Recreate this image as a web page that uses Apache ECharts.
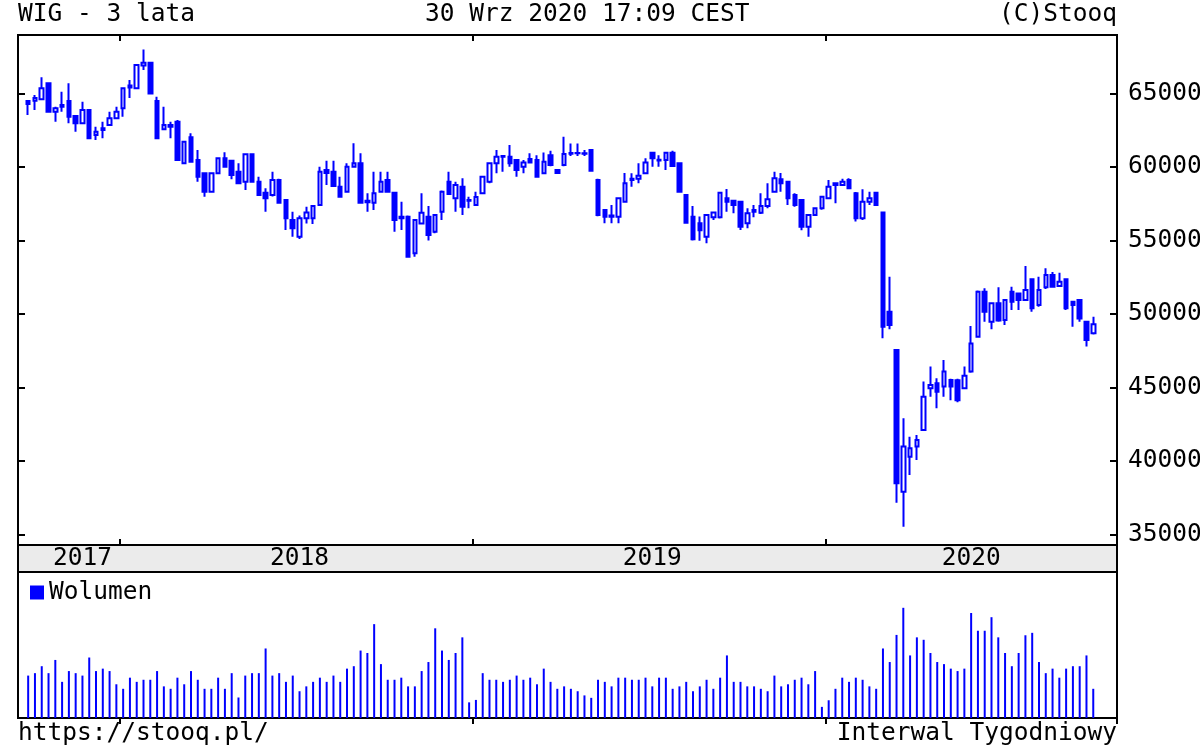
<!DOCTYPE html>
<html>
<head>
<meta charset="utf-8">
<title>WIG - 3 lata</title>
<script src="https://cdn.jsdelivr.net/npm/echarts@6/dist/echarts.min.js"></script>
<style>
html, body { margin: 0; padding: 0; background: #fff; }
#main { width: 1200px; height: 750px; }
</style>
</head>
<body>
<div id="main"></div>
<script>
// notowania tygodniowe WIG, pierwszy tydzien konczy sie 2017-09-29
const firstWeek = '2017-09-29'

const opens = [
  64490, 64500, 64605, 65690, 63760, 64220, 64490, 63470, 62970, 63880,
  62180, 62520, 62860, 63310, 63990, 65400, 65350, 66900, 67100, 64490,
  62560, 62860, 63080, 60250, 62020, 60480, 59570, 58320, 59570, 60590,
  60430, 59680, 59000, 60860, 59000, 58250, 58100, 59120, 57760, 56390,
  55260, 56510, 56510, 57420, 59800, 59680, 58660, 58320, 60020, 60250,
  57700, 57570, 58320, 59120, 58250, 56620, 56620, 54130, 56150, 56620,
  55600, 56960, 59000, 57870, 58660, 57760, 57420, 58210, 59000, 60250,
  60700, 60700, 60480, 60020, 60550, 60480, 59570, 60800, 59800, 60140,
  60900, 60960, 60930, 61160, 59120, 57080, 56700, 56620, 57640, 59120,
  59200, 59570, 60970, 60500, 60480, 60970, 60250, 58100, 56620, 56170,
  55260, 56580, 56580, 57870, 57700, 57640, 56170, 56960, 56890, 57350,
  58320, 59160, 59000, 58100, 57760, 55940, 56740, 57190, 57870, 58890,
  58780, 59120, 58210, 56510, 57640, 58250, 56900, 50150, 47550, 37910,
  40290, 40980, 42100, 44940, 45290, 45060, 45510, 45500, 44940, 46080,
  48460, 51520, 49480, 50730, 49590, 51520, 51400, 50950, 52360, 50610,
  51820, 52650, 51900, 52360, 50840, 50950, 49480, 48690
]
const closes = [
  64290, 64700, 65350, 63760, 64000, 64100, 63420, 62970, 63880, 61950,
  62400, 62630, 63310, 63760, 65350, 65550, 66940, 67100, 65000, 61950,
  62860, 62740, 60480, 61720, 60360, 59340, 58320, 59570, 60590, 60020,
  59460, 58890, 60860, 59000, 58100, 57870, 59120, 57570, 56510, 55830,
  56510, 56900, 57350, 59680, 59600, 58710, 57980, 60020, 60250, 57570,
  57600, 58210, 59000, 58320, 56390, 56510, 53900, 56390, 56890, 55370,
  56740, 58320, 58160, 58780, 57300, 57700, 57960, 59340, 60250, 60700,
  60750, 60250, 59800, 60300, 60300, 59340, 60360, 60140, 59600, 60890,
  60960, 60930, 60900, 59750, 56740, 56620, 56620, 57870, 58890, 59200,
  59400, 60300, 60590, 60450, 60970, 60060, 58320, 56200, 55080, 55700,
  56740, 56900, 58250, 57640, 57420, 55940, 56850, 57080, 57350, 57800,
  59230, 58890, 57870, 57420, 55940, 56740, 57190, 57980, 58660, 58780,
  59000, 58550, 56510, 57640, 57870, 57420, 49130, 49250, 38480, 40980,
  40860, 41430, 44370, 45170, 44710, 46080, 45060, 44140, 45800, 48000,
  51520, 50160, 50730, 49550, 50950, 50840, 50950, 51630, 50390, 51630,
  52650, 51860, 52200, 50390, 50610, 49700, 48230, 49300
]
const lows = [
  63540, 63880, 64550, 63700, 63080, 63760, 62970, 62400, 62900, 61900,
  61840, 61950, 62800, 63250, 63420, 64700, 65300, 66600, 64950, 61900,
  62500, 61950, 60400, 60200, 60300, 59000, 57980, 58250, 59500, 59950,
  59160, 58850, 58440, 58950, 58050, 56960, 58000, 57500, 55720, 55260,
  55100, 56150, 56120, 57400, 58780, 58650, 57900, 58300, 60000, 57500,
  56960, 57080, 58250, 58250, 55600, 55720, 53850, 53900, 56100, 55000,
  55500, 56390, 58100, 56960, 56740, 57190, 57400, 58150, 58900, 59570,
  59680, 60020, 59340, 59570, 60250, 59300, 59500, 60050, 59550, 60050,
  60750, 60750, 60750, 59700, 56650, 56170, 56170, 56170, 57600, 58660,
  58890, 59500, 60020, 60020, 59800, 60000, 58250, 56150, 55000, 54980,
  54810, 56400, 56500, 56960, 56850, 55720, 55830, 56580, 56800, 57190,
  58250, 58320, 57420, 57300, 55700, 55260, 56700, 57100, 57800, 57530,
  58700, 58500, 56300, 56400, 57420, 57400, 48350, 48960, 37150, 35530,
  39050, 40070, 42050, 44370, 43590, 44370, 44140, 44000, 44900, 46000,
  48400, 49480, 48960, 49480, 49250, 50270, 50270, 50900, 50160, 50500,
  51700, 51800, 51860, 50270, 49140, 49480, 47780, 48600
]
const highs = [
  64560, 64900, 66100, 65750, 64100, 65120, 65690, 63500, 64440, 63950,
  62740, 63080, 63760, 64100, 65400, 65920, 67000, 68000, 67150, 64780,
  64100, 63080, 63200, 61750, 62290, 61160, 59600, 59650, 60650, 61000,
  60500, 60250, 60900, 60900, 59340, 58550, 59680, 59200, 57800, 56960,
  56700, 57300, 57350, 60020, 60430, 60430, 59340, 60250, 61610, 60930,
  58210, 59680, 59680, 59680, 58320, 57640, 56700, 56450, 58210, 57350,
  56800, 58400, 59680, 59000, 59230, 57980, 58320, 59400, 60300, 61150,
  60800, 61500, 60500, 60480, 60930, 60800, 60980, 61100, 59850, 62060,
  61600, 61600, 61150, 61200, 59200, 57100, 57420, 57900, 59590, 59570,
  60250, 60590, 61000, 60800, 61000, 61100, 60300, 58150, 57350, 56640,
  56800, 56950, 58300, 58500, 57760, 57700, 57190, 57420, 58210, 58890,
  59680, 59600, 59000, 58210, 57800, 56800, 57250, 58000, 59120, 58950,
  59200, 59230, 58300, 58480, 58320, 58300, 56950, 52540, 47600, 42900,
  41650, 41770, 45400, 46420, 45630, 46870, 45600, 45600, 46420, 49180,
  51600, 51750, 50800, 51820, 51000, 51850, 51450, 53270, 52400, 52540,
  53120, 52850, 52800, 52400, 50900, 51000, 49500, 49820
]
// wolumen (jednostki umowne)
const volumes = [
  122, 129, 149, 129, 167, 104, 135, 129, 122, 174,
  135, 142, 135, 97, 84, 116, 104, 110, 110, 135,
  91, 84, 116, 97, 135, 110, 84, 84, 116, 84,
  129, 59, 122, 129, 129, 200, 122, 129, 104, 122,
  77, 91, 104, 116, 104, 122, 104, 142, 149, 194,
  187, 270, 155, 110, 110, 116, 91, 91, 135, 161,
  258, 194, 167, 187, 232, 45, 52, 129, 110, 110,
  104, 110, 122, 110, 116, 97, 142, 104, 84, 91,
  84, 77, 65, 58, 110, 104, 91, 116, 116, 110,
  110, 116, 91, 116, 116, 84, 91, 104, 77, 91,
  110, 84, 116, 180, 104, 104, 91, 91, 84, 77,
  122, 91, 97, 110, 116, 97, 135, 32, 51, 84,
  116, 104, 116, 110, 91, 84, 200, 161, 239, 317,
  180, 232, 225, 187, 161, 155, 142, 135, 142, 302,
  251, 251, 290, 232, 187, 149, 187, 238, 245, 161,
  129, 142, 116, 142, 149, 149, 180, 84
]

const priceTicks = [35000, 40000, 45000, 50000, 55000, 60000, 65000]
const yearLabels = ['2017', '2018', '2019', '2020']
const yearLabelWeeks = ['2017-11-24', '2018-07-06', '2019-07-05', '2020-05-29']

const lead = 1, trail = 3
const font = "'DejaVu Sans Mono', monospace"

// kategorie: piątki tygodni (z pustymi miejscami po bokach)
let weeks = []
let t0 = Date.parse(firstWeek + 'T00:00:00Z') - lead * 7 * 86400000
for (let i = 0; i < opens.length + lead + trail; i++) {
  weeks.push(new Date(t0 + i * 7 * 86400000).toISOString().slice(0, 10))
}
function yearStart(idx) {
  return idx > 0 && weeks[idx].slice(0, 4) !== weeks[idx - 1].slice(0, 4)
}

let pad = n => Array.from({ length: n }, () => ['-', '-', '-', '-'])
let candles = pad(lead).concat(
  opens.map((o, i) => [o, closes[i], lows[i], highs[i]]),
  pad(trail)
)
let vol = Array(lead).fill('-').concat(volumes, Array(trail).fill('-'))

let chart = echarts.init(document.getElementById('main'))

let tickAxis = (grid, pos) => ({
  type: 'category',
  gridIndex: grid,
  position: pos,
  data: weeks,
  axisLine: { show: false },
  axisTick: {
    show: true,
    inside: true,
    length: 6,
    interval: idx => yearStart(idx),
    lineStyle: { color: '#000', width: 2 }
  },
  axisLabel: { show: false },
  splitLine: { show: false }
})

let priceAxis = (pos, labels) => ({
  type: 'value',
  gridIndex: 0,
  position: pos,
  min: 34284,
  max: 68980,
  axisLine: { show: false },
  axisTick: {
    show: true,
    inside: true,
    length: 7,
    customValues: priceTicks,
    lineStyle: { color: '#000', width: 2 }
  },
  axisLabel: {
    show: labels,
    customValues: priceTicks,
    formatter: v => String(v),
    margin: 11,
    color: '#000',
    fontFamily: font,
    fontSize: 24.5
  },
  splitLine: { show: false }
})

let textTitle = (text, pos) => Object.assign({
  text: text,
  padding: 0,
  textStyle: { fontFamily: font, fontSize: 24.5, fontWeight: 'normal', color: '#000' }
}, pos)

let frame = (top, height, bg) => ({
  left: 18, right: 83, top: top, height: height,
  outerBoundsMode: 'none',
  containLabel: false,
  show: true, borderColor: '#000', borderWidth: 2, backgroundColor: bg
})

chart.setOption({
  animation: false,
  backgroundColor: '#fff',
  title: [
    textTitle('WIG - 3 lata', { left: 18, top: 2 }),
    textTitle('30 Wrz 2020 17:09 CEST', { left: 425, top: 2 }),
    textTitle('(C)Stooq', { right: 83, top: 2 }),
    textTitle('https://stooq.pl/', { left: 18, top: 721 }),
    textTitle('Interwal Tygodniowy', { right: 83, top: 721 })
  ],
  legend: {
    data: ['Wolumen'],
    left: 30,
    top: 580,
    padding: 0,
    icon: 'rect',
    itemWidth: 14,
    itemHeight: 14,
    textStyle: { fontFamily: font, fontSize: 24.5, color: '#000' }
  },
  grid: [
    frame(35, 510, '#fff'),
    frame(545, 27, '#ebebeb'),
    frame(572, 146, '#fff')
  ],
  xAxis: [
    tickAxis(0, 'bottom'),
    tickAxis(0, 'top'),
    {
      type: 'category',
      gridIndex: 1,
      position: 'top',
      data: weeks,
      axisLine: { show: false },
      axisTick: { show: false },
      axisLabel: {
        inside: true,
        margin: 1,
        interval: (idx, value) => yearLabelWeeks.indexOf(value) >= 0,
        formatter: value => yearLabels[yearLabelWeeks.indexOf(value)],
        color: '#000',
        fontFamily: font,
        fontSize: 24.5
      }
    },
    tickAxis(2, 'top')
  ],
  yAxis: [
    priceAxis('right', true),
    priceAxis('left', false),
    { type: 'value', gridIndex: 1, show: false },
    { type: 'value', gridIndex: 2, show: false, min: 0, max: 420 }
  ],
  series: [
    {
      name: 'WIG',
      type: 'candlestick',
      xAxisIndex: 0,
      yAxisIndex: 0,
      barWidth: 4,
      data: candles,
      itemStyle: {
        color: '#ffffff',
        color0: '#0000ff',
        borderColor: '#0000ff',
        borderColor0: '#0000ff',
        borderWidth: 2
      }
    },
    {
      name: 'Wolumen',
      type: 'bar',
      xAxisIndex: 3,
      yAxisIndex: 3,
      barWidth: 2,
      data: vol,
      itemStyle: { color: '#0000ff' }
    }
  ]
})
</script>
</body>
</html>
